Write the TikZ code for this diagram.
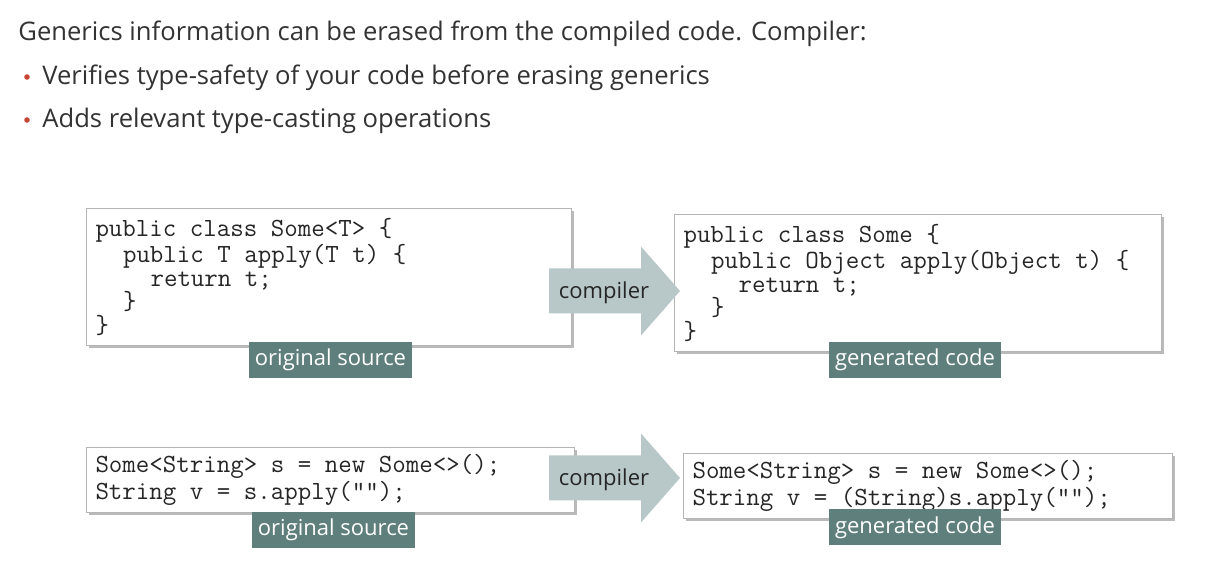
\documentclass[tikz,border=0pt]{standalone}
\usepackage{fontspec}
\setsansfont{Open Sans}
\usetikzlibrary{shadows}

\definecolor{headgray}{HTML}{333333}
\definecolor{bulletred}{HTML}{C74634}
\definecolor{tealgray}{HTML}{5E7F7B}
\definecolor{arrowgray}{HTML}{B8C8C8}
\definecolor{boxline}{HTML}{B5B5B5}

\newcommand{\codefont}{\ttfamily\fontsize{13.1}{11.75}\selectfont}
\newcommand{\codeindent}[1]{\hspace*{#1em}}

\tikzset{
  headtext/.style={anchor=base west, inner sep=0pt, text=headgray,
    font=\sffamily\fontsize{12.8}{15}\selectfont},
  bullet/.style={circle, fill=bulletred, inner sep=0pt, minimum size=2.8pt},
  codebox/.style={draw=boxline, fill=white, line width=0.5pt, anchor=north west,
    align=flush left, inner xsep=4.5pt, inner ysep=0pt, font=\codefont, text=black!85,
    drop shadow={shadow xshift=1.2pt, shadow yshift=-1.2pt, opacity=0.45, fill=black!60}},
  srclabel/.style={fill=tealgray, text=white, inner xsep=3pt, inner ysep=0pt,
    minimum height=18pt, font=\sffamily\fontsize{11}{13}\selectfont},
  arrowtext/.style={inner sep=0pt, text=black!85,
    font=\sffamily\fontsize{11}{13}\selectfont}
}

\begin{document}
\begin{tikzpicture}[x=0.5pt, y=-0.5pt]
\useasboundingbox[fill=white] (0,0) rectangle (1215,565);

% heading and bullets
\node[headtext] (head) at (18,41) {Generics information can be erased from the compiled code. Compiler:};
\node[bullet] (b1) at (27,77) {};
\node[headtext] (item1) at (42,85) {Verifies type-safety of your code before erasing generics};
\node[bullet] (b2) at (27,120) {};
\node[headtext] (item2) at (42,128) {Adds relevant type-casting operations};

% code boxes
\node[codebox, text width=233.5pt, minimum height=68.5pt] (src1) at (86,208)
  {public class Some<T> \{\\
   \codeindent{1.05}public T apply(T t) \{\\
   \codeindent{2.1}return t;\\
   \codeindent{1.05}\}\\
   \}};
\node[codebox, text width=234.5pt, minimum height=68.5pt] (gen1) at (674,214)
  {public class Some \{\\
   \codeindent{1.05}public Object apply(Object t) \{\\
   \codeindent{2.1}return t;\\
   \codeindent{1.05}\}\\
   \}};
\node[codebox, text width=235pt, minimum height=32.5pt] (src2) at (86,447)
  {Some<String> s = new Some<>();\\
   String v = s.apply("");};
\node[codebox, text width=235.5pt, minimum height=32.5pt] (gen2) at (683,453)
  {Some<String> s = new Some<>();\\
   String v = (String)s.apply("");};

% labels under the boxes
\node[srclabel, minimum width=81.5pt] (lsrc1) at (330.5,360) {original source};
\node[srclabel, minimum width=85pt] (lgen1) at (915,360) {generated code};
\node[srclabel, minimum width=81.5pt] (lsrc2) at (333.5,530) {original source};
\node[srclabel, minimum width=85pt] (lgen2) at (915,527.5) {generated code};

% compiler arrows
\foreach \ay [count=\i] in {291,478} {
  \fill[arrowgray] (549,\ay-22.5) -- (641,\ay-22.5) -- (641,\ay-44.5) -- (680,\ay)
    -- (641,\ay+44.5) -- (641,\ay+22.5) -- (549,\ay+22.5) -- cycle;
  \node[arrowtext] (comp\i) at (604,\ay+2) {compiler};
}
\end{tikzpicture}
\end{document}
